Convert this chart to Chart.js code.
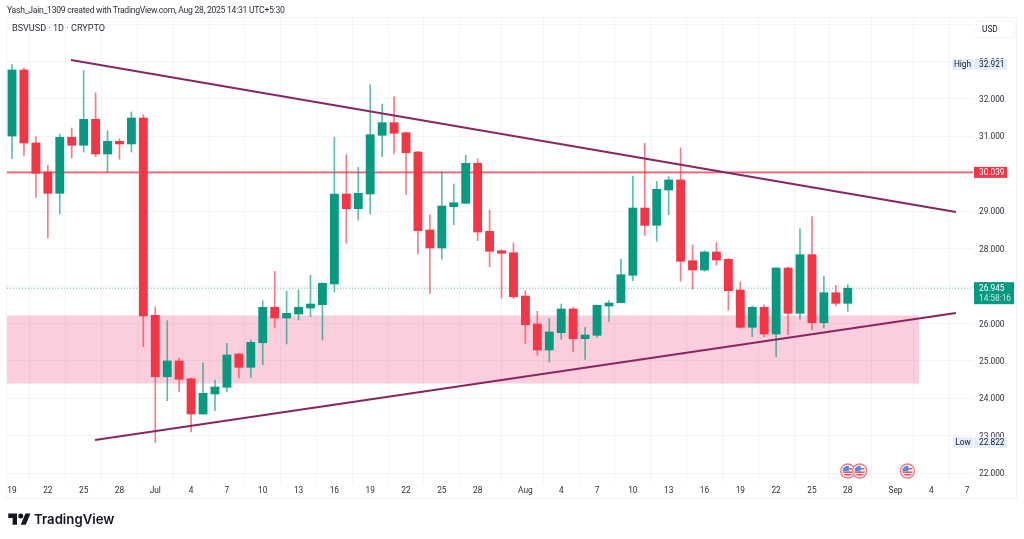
<!DOCTYPE html>
<html>
<head>
<meta charset="utf-8">
<title>BSVUSD 1D</title>
<script src="https://cdn.jsdelivr.net/npm/chart.js@4"></script>
<style>
  html, body { margin: 0; padding: 0; background: #fff; }
  body { width: 1024px; height: 539px; overflow: hidden; position: relative; font-family: Roboto, sans-serif; }
  #wrap { position: absolute; left: 0; top: 0; width: 1024px; height: 539px; }
  #frame { position: absolute; left: 6px; top: 17px; width: 1011px; height: 482px; border: 1px solid #f0f3fa; box-sizing: border-box; pointer-events: none; }
  .txt { position: absolute; white-space: nowrap; color: #2a2e39; }
  #credit { left: 7px; top: 4px; font-size: 8.6px; line-height: 12px; letter-spacing: -0.26px; }
  #symbol { left: 12px; top: 22px; font-size: 9.1px; line-height: 12px; }
  #logoText { left: 34px; top: 509px; font-family: Inter, sans-serif; font-weight: 600; font-size: 13.2px; line-height: 20px; color: #131722; }
  #logo { position: absolute; left: 8px; top: 511px; }
</style>
</head>
<body>
<div id="wrap"><canvas id="chart" width="1024" height="539"></canvas></div>
<div id="frame"></div>
<div class="txt" id="credit">Yash_Jain_1309 created with TradingView.com, Aug 28, 2025 14:31 UTC+5:30</div>
<div class="txt" id="symbol">BSVUSD · 1D · CRYPTO</div>
<svg id="logo" width="23" height="15" viewBox="0 0 36 24"><path fill="#131722" d="M14 22H7V11H0V4h14v18zM28 22h-8l7.5-18h8L28 22z"/><circle fill="#131722" cx="20" cy="8" r="4"/></svg>
<div class="txt" id="logoText">TradingView</div>
<script>
// daily candles, Jun 19 to Aug 28
var opens = [31.011, 32.775, 30.824, 30.049, 29.480, 30.977, 30.763, 31.458, 30.530, 30.870, 30.798, 31.492,
  26.220, 24.580, 25.000, 24.526, 23.583, 24.118, 24.297, 25.186, 24.831, 25.488, 26.434, 26.148, 26.255, 26.415, 26.504, 27.057, 29.462, 29.069, 29.462,
  31.030, 31.367, 31.100, 30.584, 28.500, 28.019, 29.122, 29.213, 30.282, 28.465, 27.947, 27.893,
  26.736, 25.988, 25.293, 25.755, 26.389, 25.595, 25.686, 26.469, 26.557, 27.289, 29.087, 28.625, 29.568, 29.836, 27.679, 27.431, 27.912, 27.717, 26.897, 25.900, 26.434, 25.721, 27.484, 26.274, 27.840, 26.023, 26.824, 26.541];
var closes = [32.775, 30.824, 30.015, 29.480, 30.977, 30.763, 31.458, 30.530, 30.870, 30.798, 31.492, 26.202,
  24.580, 25.000, 24.510, 23.583, 24.136, 24.305, 25.160, 24.831, 25.499, 26.434, 26.148, 26.274, 26.434, 26.522, 27.076, 29.462, 29.069, 29.480, 31.046,
  31.367, 31.084, 30.565, 28.481, 28.019, 29.141, 29.229, 30.282, 28.446, 27.931, 27.877, 26.717,
  25.969, 25.293, 25.774, 26.389, 25.595, 25.694, 26.488, 26.549, 27.305, 29.087, 28.625, 29.587, 29.836, 27.663, 27.431, 27.912, 27.698, 26.878, 25.900, 26.434, 25.721, 27.484, 26.274, 27.840, 26.023, 26.824, 26.541, 26.945];
var highs = [32.921, 32.828, 30.993, 30.228, 31.065, 31.225, 32.756, 32.168, 31.153, 30.939, 31.653, 31.580,
  26.450, 26.076, 25.080, 24.545, 24.954, 24.492, 25.472, 25.200, 25.560, 26.611, 27.396, 26.862, 26.897, 27.289, 27.092, 30.977, 30.512, 30.175, 32.382,
  31.866, 32.061, 31.118, 30.603, 28.908, 30.049, 29.729, 30.496, 30.405, 29.034, 27.965, 28.160,
  26.878, 26.327, 26.130, 26.522, 26.434, 25.900, 26.496, 26.611, 27.717, 29.943, 30.816, 29.801, 29.924, 30.691, 28.099, 27.947, 28.160, 27.733, 27.110, 26.469, 26.504, 27.500, 27.519, 28.534, 28.855, 27.252, 27.022, 27.038];
var lows = [30.405, 30.477, 29.373, 28.286, 28.927, 30.423, 30.584, 30.458, 30.049, 30.389, 30.584, 25.381,
  22.822, 23.939, 24.171, 23.102, 23.570, 23.671, 24.171, 24.545, 24.564, 24.901, 25.881, 25.454, 26.095, 26.183, 25.560, 26.843, 28.144, 28.767, 28.927,
  30.458, 30.530, 29.443, 27.858, 26.808, 27.717, 28.641, 29.200, 28.214, 27.519, 26.683, 26.664,
  25.472, 25.152, 24.973, 25.579, 25.240, 25.045, 25.633, 26.060, 26.549, 27.145, 28.358, 28.198, 28.909, 27.129, 26.915, 27.396, 27.556, 26.362, 25.886, 25.649, 25.649, 25.114, 25.702, 26.114, 25.828, 25.881, 26.469, 26.327];

// time axis, in days since Jun 19
var tickDays = [0, 3, 6, 9, 12, 15, 18, 21, 24, 27, 30, 33, 36, 39, 43, 46, 49, 52, 55, 58, 61, 64, 67, 70, 74, 77, 80];
var tickLabels = ["19", "22", "25", "28", "Jul", "4", "7", "10", "13", "16", "19", "22", "25", "28", "Aug", "4", "7", "10", "13", "16", "19", "22", "25", "28", "Sep", "4", "7"];
var priceTicks = [22, 23, 24, 25, 26, 27, 28, 29, 30, 31, 32, 33, 34];
var fullSpan = [-0.42, 80.49];

// drawings
var upperTrendDays = [4.94, 79.06];
var upperTrendPrices = [33.042, 28.981];
var lowerTrendDays = [6.95, 79.06];
var lowerTrendPrices = [22.888, 26.282];
var zoneDays = [-0.42, 75.96];
var zoneTop = 26.215;
var zoneBottom = 24.40;
var levelPrice = 30.039;
var lastPrice = 26.945;
var highPrice = 32.921;
var lowPrice = 22.822;
var eventDays = [70, 71, 75];

var green = "#089981";
var red = "#F23645";
var candleColors = opens.map(function(o, i) { return closes[i] >= o ? green : red; });
var wickColors = opens.map(function(o, i) { return closes[i] >= o ? "rgba(8,153,129,0.65)" : "rgba(242,54,69,0.65)"; });

var axisFont = { family: "Roboto, sans-serif", size: 8.3 };

function box(ctx, x, y, w, h, color) {
  ctx.fillStyle = color;
  ctx.fillRect(x, y, w, h);
}

function label(ctx, text, x, y, color, align) {
  ctx.fillStyle = color;
  ctx.textAlign = align || "left";
  ctx.textBaseline = "middle";
  ctx.font = "8.3px Roboto, sans-serif";
  ctx.fillText(text, x, y + 0.8);
}

function drawFlag(ctx, x, y) {
  ctx.save();
  ctx.beginPath();
  ctx.arc(x, y, 7, 0, Math.PI * 2);
  ctx.fillStyle = "#fff";
  ctx.fill();
  ctx.strokeStyle = "#f7777f";
  ctx.lineWidth = 1.4;
  ctx.stroke();
  ctx.beginPath();
  ctx.arc(x, y, 5.2, 0, Math.PI * 2);
  ctx.clip();
  box(ctx, x - 6, y - 6, 12, 12, "#fff");
  box(ctx, x - 6, y - 3, 12, 1.6, "#f0555f");
  box(ctx, x - 6, y + 0.4, 12, 1.6, "#f0555f");
  box(ctx, x - 6, y + 3, 12, 1.6, "#f0555f");
  box(ctx, x - 6, y - 6, 7, 6.2, "#4a90e2");
  ctx.restore();
}

// price labels, USD button and event flags on top of the axes
var overlayPlugin = {
  id: "overlay",
  afterDraw: function(chart) {
    var ctx = chart.ctx;
    var xs = chart.scales.x;
    var ys = chart.scales.y;

    var yHigh = ys.getPixelForValue(highPrice);
    box(ctx, 952, yHigh - 5.5, 21, 11, "#e3effd");
    box(ctx, 974, yHigh - 5.5, 33, 11, "#e3effd");
    label(ctx, "High", 962.5, yHigh, "#131722", "center");
    label(ctx, highPrice.toFixed(3), 979, yHigh, "#131722");

    var yLow = ys.getPixelForValue(lowPrice);
    box(ctx, 953, yLow - 5.5, 20, 11, "#e3effd");
    box(ctx, 974, yLow - 5.5, 33, 11, "#e3effd");
    label(ctx, "Low", 963, yLow, "#131722", "center");
    label(ctx, lowPrice.toFixed(3), 979, yLow, "#131722");

    var yLevel = ys.getPixelForValue(levelPrice);
    box(ctx, 974, yLevel - 5.5, 33, 11, red);
    label(ctx, levelPrice.toFixed(3), 979, yLevel, "#fff");

    var yLast = ys.getPixelForValue(lastPrice);
    box(ctx, 974, yLast - 6, 40, 22, green);
    label(ctx, lastPrice.toFixed(3), 979, yLast, "#fff");
    label(ctx, "14:58:16", 979, yLast + 10, "rgba(255,255,255,0.75)");

    // USD button
    ctx.beginPath();
    ctx.roundRect(976, 21, 39, 17, 2);
    ctx.fillStyle = "#fff";
    ctx.fill();
    ctx.strokeStyle = "#f0f3fa";
    ctx.lineWidth = 1;
    ctx.stroke();
    label(ctx, "USD", 982, 29, "#131722");

    eventDays.forEach(function(d) {
      drawFlag(ctx, xs.getPixelForValue(d), 471);
    });
  }
};

var bodyPoints = opens.map(function(o, i) { return { x: i, y: [o, closes[i]] }; });
var wickPoints = lows.map(function(l, i) { return { x: i, y: [l, highs[i]] }; });

var chart = new Chart(document.getElementById("chart"), {
  type: "bar",
  data: {
    datasets: [
      {
        label: "body", data: bodyPoints, order: 1, barThickness: 8.2, grouped: false,
        backgroundColor: candleColors, borderWidth: 0
      },
      {
        label: "wick", data: wickPoints, order: 2, barThickness: 1, grouped: false,
        backgroundColor: wickColors, borderWidth: 0
      },
      {
        type: "line", label: "upper trend", order: 0, pointRadius: 0, borderWidth: 1.9, borderColor: "#8a2563",
        data: upperTrendDays.map(function(d, i) { return { x: d, y: upperTrendPrices[i] }; })
      },
      {
        type: "line", label: "lower trend", order: 0, pointRadius: 0, borderWidth: 1.9, borderColor: "#8a2563",
        data: lowerTrendDays.map(function(d, i) { return { x: d, y: lowerTrendPrices[i] }; })
      },
      {
        type: "line", label: "level", order: 3, pointRadius: 0, borderWidth: 1.7, borderColor: "rgba(242,54,69,0.8)",
        data: fullSpan.map(function(d) { return { x: d, y: levelPrice }; })
      },
      {
        type: "line", label: "last", order: 3, pointRadius: 0, borderWidth: 1, borderDash: [1, 2], borderColor: "rgba(8,153,129,0.65)",
        data: fullSpan.map(function(d) { return { x: d, y: lastPrice }; })
      },
      {
        type: "line", label: "zone", order: 4, pointRadius: 0, borderWidth: 0, fill: { value: zoneBottom },
        backgroundColor: "rgba(233,30,99,0.22)",
        data: zoneDays.map(function(d) { return { x: d, y: zoneTop }; })
      }
    ]
  },
  options: {
    responsive: false,
    animation: false,
    events: [],
    layout: { padding: { left: 7, top: 18, right: 7, bottom: 40 } },
    plugins: { legend: { display: false }, tooltip: { enabled: false } },
    scales: {
      x: {
        type: "linear",
        min: fullSpan[0],
        max: fullSpan[1],
        offset: false,
        afterBuildTicks: function(axis) {
          axis.ticks = tickDays.map(function(d) { return { value: d }; });
        },
        afterFit: function(axis) { axis.height = 16; },
        grid: { color: "#f3f4f7", lineWidth: 1, drawTicks: false },
        border: { display: false },
        ticks: {
          autoSkip: false,
          maxRotation: 0,
          padding: 3,
          font: axisFont,
          color: "#2a2e39",
          callback: function(value) { return tickLabels[tickDays.indexOf(value)]; }
        }
      },
      y: {
        position: "right",
        min: 21.74,
        max: 34.164,
        afterBuildTicks: function(axis) {
          axis.ticks = priceTicks.map(function(p) { return { value: p }; });
        },
        afterFit: function(axis) { axis.width = 44; },
        grid: { color: "#f3f4f7", lineWidth: 1, drawTicks: false },
        border: { display: false },
        ticks: {
          autoSkip: false,
          padding: 6,
          labelOffset: 1,
          font: axisFont,
          color: "#2a2e39",
          callback: function(value) { return value === 34 ? "" : value.toFixed(3); }
        }
      }
    }
  },
  plugins: [overlayPlugin]
});
</script>
</body>
</html>
